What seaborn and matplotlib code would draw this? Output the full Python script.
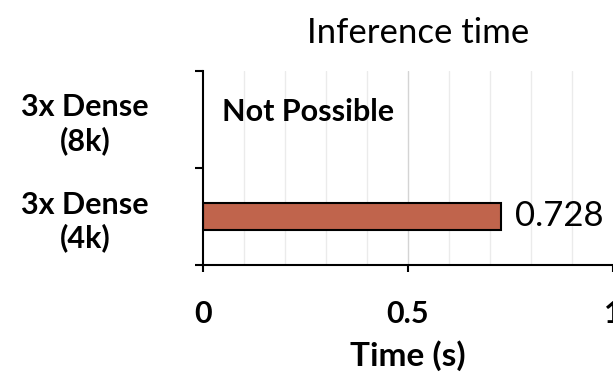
import matplotlib
matplotlib.use("Agg")
import matplotlib.pyplot as plt
import numpy as np
import pandas as pd
import seaborn as sns

categories = ["3x Dense\n(8k)", "3x Dense\n(4k)"]
times = [np.nan, 0.728]
bar_labels = ["", "0.728"]
xticks = [0, 0.5, 1]
xtick_labels = ["0", "0.5", "1"]

sns.set_style("white")
plt.rcParams['font.family'] = ['Lato', 'DejaVu Sans']
plt.rcParams['text.color'] = 'black'
plt.rcParams['xtick.color'] = 'black'
plt.rcParams['ytick.color'] = 'black'
plt.rcParams['axes.labelcolor'] = 'black'

df = pd.DataFrame({"cat": categories, "time": times})

fig = plt.figure(figsize=(6.13, 3.77), dpi=100)
ax = fig.add_axes([0.331, 0.297, 0.669, 0.515])

sns.barplot(data=df, x="time", y="cat", order=categories, orient="h",
            color="#C0644C", saturation=1, width=0.28,
            edgecolor="black", linewidth=1.5, ax=ax)

ax.set_xlim(0, 1)
ax.set_ylim(1.5, -0.5)

# grid every 0.1, darker at the 0.5 major
for v in np.arange(0.1, 1.0, 0.1):
    c = "#D4D4D4" if abs(v - 0.5) < 1e-6 else "#EBEBEB"
    ax.axvline(v, color=c, lw=1.0, zorder=0)

ax.set_xticks(xticks)
ax.set_xticklabels(xtick_labels, fontsize=22, fontweight="bold")
ax.tick_params(axis="x", bottom=True, length=5, width=1.5, pad=20)

ax.set_yticks([0, 1])
ax.set_yticklabels(categories, fontsize=22, fontweight="bold", linespacing=1.2,
                   ha="center")
ax.tick_params(axis="y", length=0, pad=85)
ax.set_yticks([-0.5, 0.5, 1.5], minor=True)
ax.tick_params(axis="y", which="minor", left=True, length=6, width=1.5)

for i, (v, lab) in enumerate(zip(times, bar_labels)):
    if lab:
        ax.text(v + 0.033, i, lab, va="center", ha="left", fontsize=25)
ax.text(0.046, -0.08, "Not Possible", va="center", ha="left", fontsize=22,
        fontweight="bold")

ax.set_xlabel("Time (s)", fontsize=24, fontweight="bold", labelpad=9)
ax.set_ylabel("")
ax.set_title("Inference time", fontsize=25, pad=20, x=0.524)

for s in ["top", "right"]:
    ax.spines[s].set_visible(False)
for s in ["left", "bottom"]:
    ax.spines[s].set_color("black")
    ax.spines[s].set_linewidth(1.5)

fig.savefig("out.png", dpi=100)
